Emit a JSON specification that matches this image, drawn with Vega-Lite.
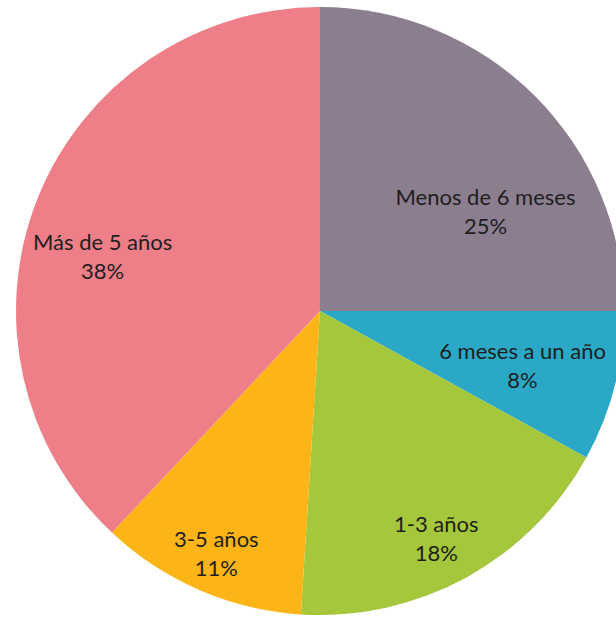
{
  "$schema": "https://vega.github.io/schema/vega-lite/v6.json",
  "autosize": "none",
  "padding": 0,
  "width": 640,
  "height": 622,
  "background": "white",
  "data": {
    "values": [
      {"orden": 1, "categoria": "Menos de 6 meses", "pct": 25, "etiqueta": "Menos de 6 meses\n25%"},
      {"orden": 2, "categoria": "6 meses a un año", "pct": 8, "etiqueta": "6 meses a un año\n8%"},
      {"orden": 3, "categoria": "1-3 años", "pct": 18, "etiqueta": "1-3 años\n18%"},
      {"orden": 4, "categoria": "3-5 años", "pct": 11, "etiqueta": "3-5 años\n11%"},
      {"orden": 5, "categoria": "Más de 5 años", "pct": 38, "etiqueta": "Más de 5 años\n38%"}
    ]
  },
  "layer": [
    {
      "mark": {"type": "arc", "outerRadius": 304},
      "encoding": {
        "theta": {"field": "pct", "type": "quantitative", "stack": true},
        "order": {"field": "orden", "type": "quantitative"},
        "color": {
          "field": "categoria",
          "type": "nominal",
          "scale": {
            "domain": ["Menos de 6 meses", "6 meses a un año", "1-3 años", "3-5 años", "Más de 5 años"],
            "range": ["#8b7f8f", "#2aa8c5", "#a4c73b", "#fcb416", "#ee7e87"]
          },
          "legend": null
        }
      }
    },
    {
      "mark": {"type": "text", "font": "Lato", "fontSize": 22, "color": "#1e1e1e", "lineBreak": "\n", "lineHeight": 29, "align": "center", "baseline": "middle", "dy": -14},
      "encoding": {
        "theta": {"field": "orden", "type": "quantitative", "stack": null, "scale": {"domain": [1, 2, 3, 4, 5], "range": [1.030, 1.838, 2.670, 3.545, 4.956]}},
        "radius": {"field": "orden", "type": "quantitative", "scale": {"type": "linear", "domain": [1, 2, 3, 4, 5], "range": [193, 210, 256, 264, 224], "zero": false}},
        "text": {"field": "etiqueta", "type": "nominal"}
      }
    }
  ],
  "resolve": {"scale": {"theta": "independent", "radius": "independent"}}
}
